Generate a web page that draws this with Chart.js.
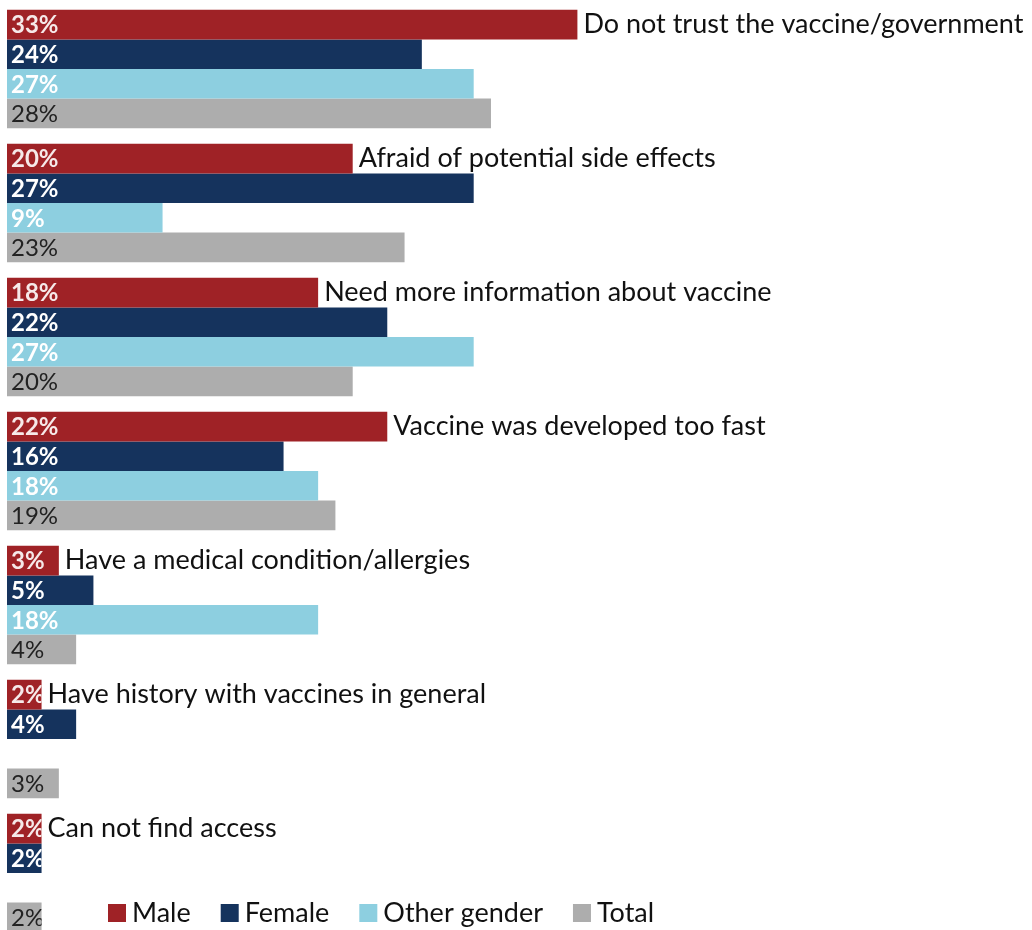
<!DOCTYPE html>
<html>
<head>
<meta charset="utf-8">
<script src="https://cdn.jsdelivr.net/npm/chart.js@4/dist/chart.umd.min.js"></script>
<style>
  html, body { margin: 0; padding: 0; background: #fff; overflow: hidden; }
  #wrap { position: relative; width: 1032px; height: 940px; }
</style>
</head>
<body>
<div id="wrap"><canvas id="chart"></canvas></div>
<script>
const categories = [
  'Do not trust the vaccine/government',
  'Afraid of potential side effects',
  'Need more information about vaccine',
  'Vaccine was developed too fast',
  'Have a medical condition/allergies',
  'Have history with vaccines in general',
  'Can not find access'
];
const seriesNames = ['Male', 'Female', 'Other gender', 'Total'];
const male = [33, 20, 18, 22, 3, 2, 2];
const female = [24, 27, 22, 16, 5, 4, 2];
const otherGender = [27, 9, 27, 18, 18, null, null];
const total = [28, 23, 20, 19, 4, 3, 2];

const COLORS = ['#9f2226', '#15335d', '#8dcfe0', '#adadad'];
const VALUE_TEXT = ['#f6e9e9', '#ffffff', '#ffffff', '#222222'];
const VALUE_WEIGHT = ['bold', 'bold', 'bold', 'normal'];
const FONT = 'Lato, "Open Sans", sans-serif';

const barLabels = {
  id: 'barLabels',
  afterDatasetsDraw(chart) {
    const ctx = chart.ctx;
    chart.data.datasets.forEach((ds, di) => {
      const meta = chart.getDatasetMeta(di);
      meta.data.forEach((bar, i) => {
        const v = ds.data[i];
        if (v == null) return;
        const h = bar.height;
        ctx.save();
        ctx.beginPath();
        ctx.rect(bar.base, bar.y - h / 2, bar.x - bar.base, h);
        ctx.clip();
        ctx.font = `${VALUE_WEIGHT[di]} 24px ${FONT}`;
        ctx.fillStyle = VALUE_TEXT[di];
        ctx.textBaseline = 'middle';
        ctx.fillText(v + '%', bar.base + 4, bar.y + 1);
        ctx.restore();
      });
    });
    // category name right of the male bar
    ctx.save();
    ctx.font = `27px ${FONT}`;
    ctx.fillStyle = '#111';
    ctx.textBaseline = 'middle';
    chart.getDatasetMeta(0).data.forEach((bar, i) => {
      ctx.fillText(categories[i], bar.x + 6, bar.y);
    });
    ctx.restore();
  },
  afterDraw(chart) {
    // legend, sitting over the last group like the original
    const ctx = chart.ctx;
    ctx.save();
    ctx.font = `27px ${FONT}`;
    ctx.textBaseline = 'middle';
    let x = 108;
    const y = 913;
    chart.data.datasets.forEach((ds, di) => {
      ctx.fillStyle = COLORS[di];
      ctx.fillRect(x, y - 9, 18, 18);
      ctx.fillStyle = '#111';
      ctx.fillText(ds.label, x + 24, y);
      x += 24 + ctx.measureText(ds.label).width + 30;
    });
    ctx.restore();
  }
};

new Chart(document.getElementById('chart'), {
  type: 'bar',
  data: {
    labels: categories,
    datasets: [male, female, otherGender, total].map((d, i) => ({
      label: seriesNames[i],
      data: d,
      backgroundColor: COLORS[i],
      barPercentage: 1,
      categoryPercentage: 0.884
    }))
  },
  options: {
    indexAxis: 'y',
    responsive: true,
    maintainAspectRatio: false,
    animation: false,
    layout: { padding: { left: 7, top: 2, right: 0, bottom: 0 } },
    plugins: { legend: { display: false }, tooltip: { enabled: false } },
    scales: {
      x: { display: false, min: 0, max: 59.3 },
      y: { display: false }
    }
  },
  plugins: [barLabels]
});
</script>
</body>
</html>
